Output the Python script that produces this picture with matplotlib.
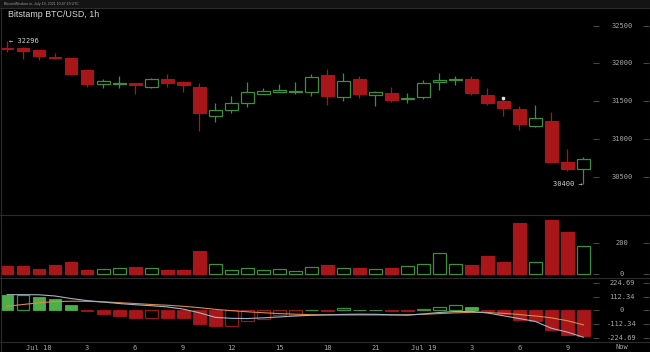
import matplotlib
matplotlib.use("Agg")
import matplotlib.pyplot as plt
import matplotlib.transforms as mtransforms
from matplotlib.lines import Line2D
from matplotlib.patches import Rectangle
import numpy as np
import pandas as pd

# ---------------- data ----------------
start_time = "2021-07-17 22:00"
open_ = [32210, 32207, 32175, 32083, 32070, 31915, 31722, 31728, 31735, 31690, 31795, 31755,
         31685, 31300, 31386, 31478, 31600, 31625, 31620, 31622, 31842, 31550, 31790, 31585,
         31605, 31524, 31557, 31748, 31786, 31790, 31583, 31500, 31390, 31172, 31237, 30693, 30605]
high = [32296, 32215, 32185, 32135, 32075, 31920, 31800, 31840, 31740, 31810, 31860, 31768,
        31745, 31470, 31565, 31750, 31675, 31732, 31750, 31865, 31930, 31880, 31840, 31632,
        31690, 31610, 31776, 31872, 31838, 31838, 31675, 31557, 31435, 31443, 31360, 30870, 30760]
low = [32150, 32060, 32050, 32055, 31855, 31690, 31675, 31675, 31590, 31680, 31690, 31618,
       31105, 31220, 31340, 31425, 31592, 31620, 31600, 31570, 31447, 31505, 31545, 31430,
       31490, 31470, 31526, 31650, 31715, 31580, 31447, 31303, 31118, 31155, 30680, 30570, 30400]
close = [32195, 32160, 32096, 32068, 31860, 31725, 31765, 31735, 31715, 31795, 31745, 31720,
         31340, 31380, 31478, 31618, 31630, 31645, 31632, 31815, 31566, 31767, 31598, 31618,
         31522, 31545, 31746, 31785, 31792, 31610, 31478, 31405, 31200, 31272, 30700, 30605, 30740]
volume = [54, 55, 34, 62, 79, 30, 32, 39, 45, 39, 26, 30, 152, 64, 28, 39, 28, 32, 23, 45,
          60, 39, 39, 36, 39, 52, 69, 135, 64, 60, 120, 81, 331, 77, 348, 273, 180]
macd_hist = [124, 126, 110, 93, 46, -5, -28, -44, -61, -60, -62, -64, -110, -132, -127, -91,
             -72, -41, -36, 2, -3, 16, 3, 3, -6, -8, 11, 27, 41, 25, -5, -30, -77, -91,
             -160, -207, -215]
macd_dif = [129, 129, 128, 118, 97, 80, 68, 56, 46, 38, 28, 10, -20, -58, -66, -68, -62, -55,
            -47, -41, -38, -34, -32, -33, -37, -40, -30, -18, -10, -9, -22, -45, -68, -92,
            -148, -180, -222]
macd_dea = [33, 48, 62, 72, 75, 74, 70, 63, 56, 48, 42, 33, 22, 8, -3, -12, -20, -27, -32,
            -36, -37, -38, -38, -38, -38, -37, -33, -27, -21, -17, -18, -25, -35, -47, -62,
            -86, -120]
price_ticks = [30500, 31000, 31500, 32000, 32500]
volume_ticks = [0, 200]
macd_ticks = [224.69, 112.34, 0, -112.34, -224.69]
macd_tick_labels = ["224.69", "112.34", "0", "-112.34", "-224.69"]
title = "Bitstamp BTC/USD, 1h"
header = "BitcoinWisdom.io, July 19, 2021 10:47:19 UTC"

# ---------------- style ----------------
BG = "#000000"
RED = "#a8161a"
RED_EDGE = "#8e1a1a"
GREEN = "#3d8f3d"
GREEN_FILL = "#4caf47"
TXT = "#a8a8a8"
SEP = "#2c2c2c"
DIF_C = "#a4b3c4"
DEA_C = "#d98a4c"
MONO = "DejaVu Sans Mono"

o = np.array(open_, float); h = np.array(high, float)
l = np.array(low, float); c = np.array(close, float)
v = np.array(volume, float); hist = np.array(macd_hist, float)
n = len(o)
x = np.arange(n)
times = pd.date_range(start_time, periods=n, freq="h")
up = c >= o

W, H = 650, 352
fig = plt.figure(figsize=(6.5, 3.52), dpi=100, facecolor=BG)


def px_axes(x0, y0, x1, y1):
    ax = fig.add_axes([x0 / W, 1 - y1 / H, (x1 - x0) / W, (y1 - y0) / H])
    ax.set_facecolor(BG)
    for s in ax.spines.values():
        s.set_visible(False)
    return ax


XL = (-0.44, 36.6)
ax_p = px_axes(0, 8, 593, 215.3)
ax_v = px_axes(0, 215.3, 593, 278.3)
ax_m = px_axes(0, 278.3, 593, 341.7)
sc_p = px_axes(593, 8, 649, 215.3)
sc_v = px_axes(593, 215.3, 649, 278.3)
sc_m = px_axes(593, 278.3, 649, 341.7)

# ---- price candles ----
BW = 0.8
ax_p.vlines(x, l, h, colors=np.where(up, GREEN, RED), linewidth=0.9, zorder=1)
ax_p.bar(x[~up], (o - c)[~up], bottom=c[~up], width=BW, color=RED, edgecolor=RED,
         linewidth=0.8, zorder=2)
ax_p.bar(x[up], (c - o)[up], bottom=o[up], width=BW, facecolor=BG, edgecolor=GREEN,
         linewidth=0.9, zorder=2)
ax_p.set_xlim(*XL)
ax_p.set_ylim(29988, 32735)
imax = int(np.argmax(h)); imin = int(np.argmin(l))
ax_p.text(imax + 0.1, h[imax], "\u2190 %d" % h[imax], color="#d0d0d0", fontsize=5,
          family=MONO, ha="left", va="center", zorder=5)
ax_p.text(imin - 0.05, l[imin], "%d \u2192" % l[imin], color="#d0d0d0", fontsize=5,
          family=MONO, ha="right", va="center", zorder=5)
# small white marker on candle 31 high
ax_p.plot([31], [h[31] - 15], marker="s", markersize=1.6, color="#e0e0e0", zorder=5)

# ---- volume ----
ax_v.bar(x[~up], v[~up], width=BW, color=RED, edgecolor=RED, linewidth=0.8)
ax_v.bar(x[up], v[up], width=BW, facecolor=BG, edgecolor=GREEN, linewidth=0.9)
ax_v.set_xlim(*XL)
ax_v.set_ylim(-26, 381)

# ---- MACD ----
prev = np.concatenate([[hist[0] + 1], hist[:-1]])
hollow = hist > prev
pos = hist >= 0
for i in range(n):
    if pos[i]:
        if hollow[i]:
            ax_m.bar(x[i], hist[i], width=BW, facecolor=BG, edgecolor=GREEN, linewidth=0.9)
        else:
            ax_m.bar(x[i], hist[i], width=BW, color=GREEN_FILL, edgecolor=GREEN_FILL, linewidth=0.6)
    else:
        if hollow[i]:
            ax_m.bar(x[i], hist[i], width=BW, facecolor=BG, edgecolor=RED_EDGE, linewidth=0.9)
        else:
            ax_m.bar(x[i], hist[i], width=BW, color=RED, edgecolor=RED, linewidth=0.6)
ax_m.plot(x, macd_dea, color=DEA_C, linewidth=0.8, zorder=4)
ax_m.plot(x, macd_dif, color=DIF_C, linewidth=0.8, zorder=5)
ax_m.set_xlim(*XL)
ax_m.set_ylim(-259, 264)

# ---- axes ticks ----
for a in (ax_p, ax_v, ax_m):
    a.set_yticks([])
    a.tick_params(axis="x", length=0)
ax_p.set_xticks([]); ax_v.set_xticks([])
tick_idx = [i for i, t in enumerate(times) if t.hour % 3 == 0]
tick_lab = [t.strftime("%b %-d") if t.hour == 0 else str(t.hour) for t in times[tick_idx]]
ax_m.set_xticks(tick_idx)
ax_m.set_xticklabels(tick_lab, fontsize=5, color=TXT, family=MONO)
ax_m.tick_params(axis="x", pad=2.2)

# ---- scale columns ----
def scale(ax, lim, ticks, labels):
    ax.set_ylim(*lim)
    ax.set_xlim(0, 1)
    ax.set_xticks([])
    ax.set_yticks(ticks)
    ax.set_yticklabels([])
    ax.tick_params(axis="y", which="both", direction="in", length=4, width=0.6,
                   color="#555555", left=True, right=True)
    tr = mtransforms.blended_transform_factory(ax.transAxes, ax.transData)
    for t, s in zip(ticks, labels):
        ax.text(0.52, t, s, transform=tr, ha="center", va="center", fontsize=5,
                color=TXT, family=MONO)

scale(sc_p, ax_p.get_ylim(), price_ticks, [str(t) for t in price_ticks])
scale(sc_v, ax_v.get_ylim(), volume_ticks, [str(t) for t in volume_ticks])
scale(sc_m, ax_m.get_ylim(), macd_ticks, macd_tick_labels)

fig.text(622 / W, 1 - 346.8 / H, "Now", fontsize=5, color=TXT, family=MONO,
         ha="center", va="center")

# ---- header, title, separators ----
fig.patches.append(Rectangle((0, 1 - 7.5 / H), 1, 7.5 / H, transform=fig.transFigure,
                             facecolor="#141414", edgecolor="none", zorder=0))
fig.text(4 / W, 1 - 3.8 / H, header, fontsize=2.6, color="#9a9a9a",
         family="Liberation Sans", ha="left", va="center")
fig.text(8 / W, 1 - 14.5 / H, title, fontsize=6.4, color="#d8d8d8",
         family="Liberation Sans", ha="left", va="center")
for yy in (7.5, 215.3, 278.3, 341.7):
    fig.add_artist(Line2D([0, 1], [1 - yy / H, 1 - yy / H], transform=fig.transFigure,
                          color=SEP, linewidth=0.8))
for xx in (0.5, 649.5):
    fig.add_artist(Line2D([xx / W, xx / W], [0, 1 - 7.5 / H], transform=fig.transFigure,
                          color=SEP, linewidth=0.8))

fig.savefig("out.png", dpi=100, facecolor=BG)
